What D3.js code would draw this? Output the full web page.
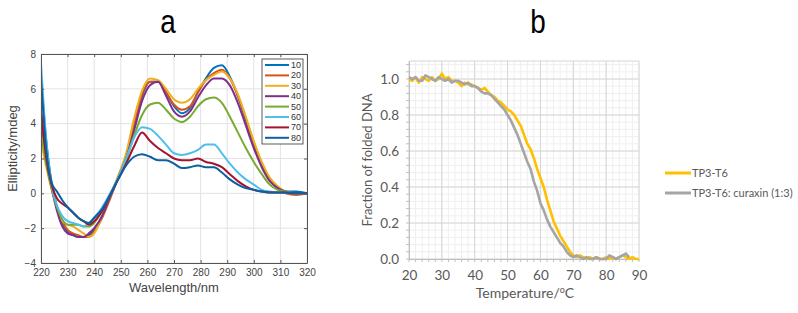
<!DOCTYPE html>
<html><head><meta charset="utf-8">
<script src="https://cdn.jsdelivr.net/npm/d3@7"></script>
<style>body{margin:0;background:#fff}svg{display:block}</style>
</head><body><svg id="c" width="798" height="313"></svg>
<script>
// ---------- Panel a data ----------
const wavelengths = [220,222,224,226,228,230,232,234,236,238,240,243,246,249,252,255,258,261,264,267,270,273,276,279,282,285,288,291,294,297,300,303,306,309,312,316,320];
const tempLabels = ["10","20","30","40","50","60","70","80"];
const seriesColors = ["#0072BD","#D95319","#EDB120","#7E2F8E","#77AC30","#4DBEEE","#A2142F","#0c5fa0"];
const s10 = [6.7,3.0,0.6,-0.8,-1.7,-2.2,-2.4,-2.5,-2.5,-2.4,-2.1,-1.3,-0.2,0.9,2.0,3.9,5.6,6.4,6.4,5.8,5.0,4.6,4.9,5.8,6.6,7.2,7.35,6.7,5.6,4.2,2.8,1.6,0.8,0.3,0.1,0.1,0.0];
const s20 = [4.7,2.5,0.5,-0.8,-1.6,-2.1,-2.3,-2.4,-2.5,-2.5,-2.2,-1.4,-0.3,0.9,2.1,4.0,5.7,6.4,6.4,5.8,5.1,4.8,5.0,5.8,6.5,6.9,7.1,6.6,5.6,4.3,2.9,1.7,0.8,0.3,0.0,-0.1,0.0];
const s30 = [3.0,1.5,0.2,-0.9,-1.6,-1.8,-1.9,-2.1,-2.3,-2.5,-2.3,-1.3,-0.2,1.0,2.3,4.3,5.9,6.6,6.5,6.0,5.4,5.2,5.4,6.0,6.5,6.8,7.0,6.6,5.7,4.4,3.0,1.8,0.9,0.4,0.1,0.0,0.0];
const s40 = [3.8,1.8,0.3,-1.0,-1.9,-2.3,-2.4,-2.5,-2.5,-2.3,-2.0,-1.3,-0.2,0.9,2.0,3.6,5.3,6.2,6.4,5.6,4.7,4.4,4.7,5.5,6.2,6.6,6.6,6.2,5.2,3.9,2.6,1.5,0.7,0.3,0.1,0.0,0.0];
const s50 = [3.5,1.7,0.3,-0.8,-1.5,-1.8,-1.8,-1.8,-1.9,-1.9,-1.7,-1.0,-0.1,0.9,1.9,3.3,4.5,5.1,5.2,4.8,4.3,4.1,4.4,5.0,5.4,5.5,5.2,4.4,3.5,2.6,1.8,1.1,0.5,0.2,0.1,0.0,0.0];
const s60 = [7.5,3.0,0.5,-0.7,-1.3,-1.6,-1.7,-1.8,-1.9,-1.7,-1.4,-0.8,0.0,0.9,2.0,3.2,3.8,3.7,3.3,2.8,2.3,2.2,2.3,2.5,2.8,2.8,2.3,1.7,1.2,0.8,0.5,0.2,0.1,0.05,0.05,0.0,0.0];
const s70 = [4.8,2.0,0.5,-0.3,-0.6,-0.8,-1.1,-1.4,-1.6,-1.8,-1.6,-1.0,-0.1,0.8,1.7,2.7,3.5,3.0,2.6,2.3,2.0,1.9,1.9,2.0,1.8,1.7,1.5,1.1,0.7,0.4,0.2,0.1,0.05,0.05,0.05,0.0,0.0];
const s80 = [6.6,2.5,0.6,0.1,-0.4,-0.8,-1.1,-1.4,-1.6,-1.7,-1.4,-0.9,-0.1,0.8,1.6,2.1,2.25,2.1,1.9,1.9,1.7,1.45,1.5,1.6,1.5,1.5,1.2,0.8,0.5,0.3,0.2,0.1,0.05,0.05,0.05,0.0,0.0];
const seriesA = [s10,s20,s30,s40,s50,s60,s70,s80];
const aXTicks = [220,230,240,250,260,270,280,290,300,310,320];
const aYTicks = [-4,-2,0,2,4,6,8];

// ---------- Panel b data ----------
const temps = d3.range(20, 91);
const tp3 = [1.00,0.99,1.01,0.98,1.01,1.00,0.99,1.01,0.99,1.00,1.03,1.00,1.01,0.99,0.99,0.98,0.96,0.98,0.97,0.97,0.96,0.95,0.94,0.95,0.93,0.91,0.90,0.88,0.87,0.85,0.83,0.82,0.80,0.77,0.74,0.69,0.64,0.61,0.56,0.50,0.45,0.40,0.33,0.27,0.21,0.17,0.13,0.10,0.07,0.04,0.02,0.01,0.02,0.01,0.00,0.01,0.00,0.01,0.00,0.00,0.01,0.00,0.01,0.00,0.01,0.02,0.01,0.00,0.01,0.00,0.00];
const tp3cur = [1.01,1.00,1.01,0.99,0.99,1.02,1.01,1.00,0.99,1.01,1.00,0.99,1.00,0.98,0.99,0.99,0.98,0.97,0.98,0.96,0.96,0.95,0.93,0.92,0.92,0.91,0.89,0.87,0.85,0.83,0.80,0.77,0.73,0.69,0.64,0.59,0.54,0.50,0.43,0.38,0.31,0.27,0.22,0.18,0.15,0.12,0.09,0.07,0.04,0.02,0.01,0.02,0.01,0.00,0.01,0.00,0.00,0.01,0.00,0.00,0.00,0.02,0.01,0.00,0.01,0.02,0.03,0.01];
const bXTicks = [20,30,40,50,60,70,80,90];
const bYTicks = [0,0.2,0.4,0.6,0.8,1.0];
const bNames = ["TP3-T6","TP3-T6: curaxin (1:3)"];
const bColors = ["#FFC000","#A5A5A5"];

const svg = d3.select("#c");

// panel letters
[["a",168],["b",538]].forEach(([t,cx])=>{
  svg.append("text").attr("transform",`translate(${cx},33) scale(0.82,1)`).attr("text-anchor","middle")
    .style("font-family","'Liberation Sans',sans-serif").style("font-size","34px").text(t);
});

// ================= Panel a =================
{
  const L=41,R=307,T=54,B=263;
  const x = d3.scaleLinear().domain([220,320]).range([L,R]);
  const y = d3.scaleLinear().domain([-4,8]).range([B,T]);
  const g = svg.append("g");
  g.append("rect").attr("x",L).attr("y",T).attr("width",R-L).attr("height",B-T).attr("fill","#fff");
  g.selectAll("line.gx").data(aXTicks).join("line").attr("x1",d=>x(d)).attr("x2",d=>x(d)).attr("y1",T).attr("y2",B).attr("stroke","#e3e3e3").attr("stroke-width",1);
  g.selectAll("line.gy").data(aYTicks).join("line").attr("y1",d=>y(d)).attr("y2",d=>y(d)).attr("x1",L).attr("x2",R).attr("stroke","#e3e3e3").attr("stroke-width",1);
  const line = d3.line().x((d,i)=>x(wavelengths[i])).y(d=>y(d)).curve(d3.curveMonotoneX);
  svg.append("clipPath").attr("id","clipA").append("rect").attr("x",L).attr("y",T).attr("width",R-L).attr("height",B-T);
  const lg = g.append("g").attr("clip-path","url(#clipA)");
  seriesA.forEach((s,i)=>{
    lg.append("path").attr("d",line(s)).attr("fill","none").attr("stroke",seriesColors[i]).attr("stroke-width",2).attr("stroke-linejoin","round");
  });
  const fontA = "'Liberation Sans',Arial,sans-serif";
  const ax = g.append("g").attr("transform",`translate(0,${B})`).call(d3.axisBottom(x).tickValues(aXTicks).tickSizeInner(-3).tickSizeOuter(0).tickPadding(6));
  const axT = g.append("g").attr("transform",`translate(0,${T})`).call(d3.axisTop(x).tickValues(aXTicks).tickSizeInner(-3).tickSizeOuter(0).tickFormat(""));
  const ay = g.append("g").attr("transform",`translate(${L},0)`).call(d3.axisLeft(y).tickValues(aYTicks).tickSizeInner(-3).tickSizeOuter(0).tickPadding(5));
  const ayR = g.append("g").attr("transform",`translate(${R},0)`).call(d3.axisRight(y).tickValues(aYTicks).tickSizeInner(-3).tickSizeOuter(0).tickFormat(""));
  [ax,axT,ay,ayR].forEach(a=>{
    a.select(".domain").attr("stroke","#555");
    a.selectAll(".tick line").attr("stroke","#555");
    a.selectAll("text").attr("fill","#444").style("font-family",fontA).style("font-size","10px");
  });
  g.append("text").attr("x",(L+R)/2).attr("y",292).attr("text-anchor","middle").attr("fill","#444")
    .style("font-family",fontA).style("font-size","13px").text("Wavelength/nm");
  g.append("text").attr("transform",`translate(17,${(T+B)/2-10}) rotate(-90)`).attr("text-anchor","middle").attr("fill","#444")
    .style("font-family",fontA).style("font-size","13px").text("Ellipticity/mdeg");
  const lgx=262, lgy=59, lw=41, lh=85;
  g.append("rect").attr("x",lgx).attr("y",lgy).attr("width",lw).attr("height",lh).attr("fill","#fff").attr("stroke","#333").attr("stroke-width",0.8);
  tempLabels.forEach((t,i)=>{
    const yy = lgy + 6 + i*10.4;
    g.append("line").attr("x1",lgx+3).attr("x2",lgx+27).attr("y1",yy).attr("y2",yy).attr("stroke",seriesColors[i]).attr("stroke-width",2);
    g.append("text").attr("x",lgx+39).attr("y",yy+3).attr("text-anchor","end").attr("fill","#333")
      .style("font-family",fontA).style("font-size","9px").text(t);
  });
}

// ================= Panel b =================
{
  const L=409,R=639,T=61,B=259;
  const x = d3.scaleLinear().domain([20,90]).range([L,R]);
  const y = d3.scaleLinear().domain([0,1.1]).range([B,T]);
  const g = svg.append("g");
  const fontB = "Lato,'Open Sans',sans-serif";
  const minorX = d3.range(20, 90.01, 2);
  const minorY = d3.range(0, 1.1001, 0.04);
  g.selectAll("line.mx").data(minorX).join("line").attr("x1",d=>x(d)).attr("x2",d=>x(d)).attr("y1",T).attr("y2",B).attr("stroke","#efefef");
  g.selectAll("line.my").data(minorY).join("line").attr("y1",d=>y(d)).attr("y2",d=>y(d)).attr("x1",L).attr("x2",R).attr("stroke","#efefef");
  g.selectAll("line.Mx").data(bXTicks).join("line").attr("x1",d=>x(d)).attr("x2",d=>x(d)).attr("y1",T).attr("y2",B).attr("stroke","#d6d6d6");
  g.selectAll("line.My").data(bYTicks.concat([1.1])).join("line").attr("y1",d=>y(d)).attr("y2",d=>y(d)).attr("x1",L).attr("x2",R).attr("stroke","#d6d6d6");
  const ax = g.append("g").attr("transform",`translate(0,${B})`).call(d3.axisBottom(x).tickValues(bXTicks).tickSize(0).tickPadding(11).tickFormat(d3.format("d")));
  const ay = g.append("g").attr("transform",`translate(${L},0)`).call(d3.axisLeft(y).tickValues(bYTicks).tickSize(0).tickPadding(10).tickFormat(d3.format(".1f")));
  [ax,ay].forEach(a=>{
    a.select(".domain").attr("stroke","#bfbfbf");
    a.selectAll("text").attr("fill","#595959").style("font-family",fontB).style("font-size","13.5px");
  });
  g.selectAll("line.tx").data(minorX).join("line").attr("x1",d=>x(d)).attr("x2",d=>x(d)).attr("y1",B).attr("y2",B+3).attr("stroke","#bfbfbf");
  g.selectAll("line.ty").data(minorY).join("line").attr("y1",d=>y(d)).attr("y2",d=>y(d)).attr("x1",L-3).attr("x2",L).attr("stroke","#bfbfbf");
  const line = d3.line().x((d,i)=>x(temps[i])).y(d=>y(d));
  [tp3,tp3cur].forEach((s,i)=>{
    g.append("path").attr("d",line(s)).attr("fill","none").attr("stroke",bColors[i]).attr("stroke-width",2.6).attr("stroke-linejoin","round");
  });
  const xl = g.append("text").attr("x",(L+R)/2+1).attr("y",298).attr("text-anchor","middle").attr("fill","#595959")
    .style("font-family",fontB).style("font-size","14px");
  xl.append("tspan").text("Temperature/");
  xl.append("tspan").attr("dy",-5).style("font-size","9px").text("o");
  xl.append("tspan").attr("dy",5).text("C");
  g.append("text").attr("transform",`translate(372,${(T+B)/2}) rotate(-90)`).attr("text-anchor","middle").attr("fill","#595959")
    .style("font-family",fontB).style("font-size","13px").text("Fraction of folded DNA");
  bNames.forEach((n,i)=>{
    const yy = 173 + i*20;
    g.append("line").attr("x1",665).attr("x2",691).attr("y1",yy).attr("y2",yy).attr("stroke",bColors[i]).attr("stroke-width",3);
    g.append("text").attr("x",692).attr("y",yy+4).attr("fill","#595959").style("font-family",fontB).style("font-size","11px").text(n);
  });
}
</script></body></html>
